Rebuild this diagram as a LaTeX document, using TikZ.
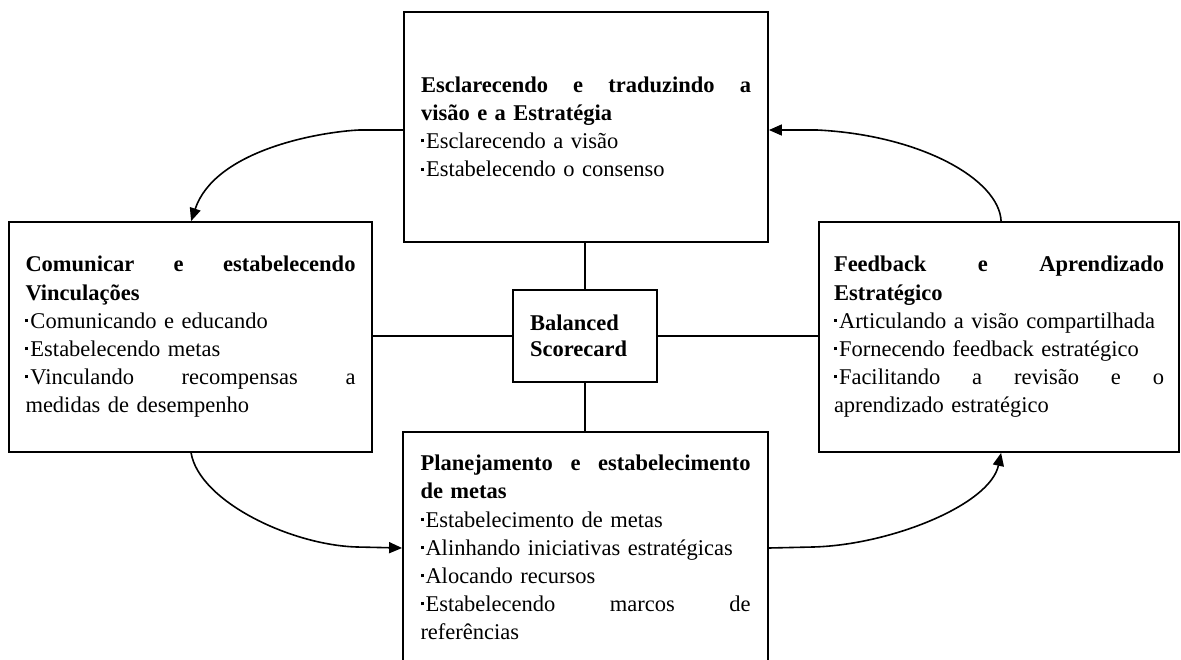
\documentclass[tikz,border=0pt]{standalone}
\usepackage{fontspec}
\setmainfont{Liberation Serif}
\usetikzlibrary{arrows.meta}

% full-width line with its gaps spread out, and the bullet marker
\newcommand\jl[1]{\leavevmode\makebox[330pt][l]{#1}}
\newcommand\bt{\rule[0.28em]{3pt}{3pt}\hspace{2pt}}

\begin{document}
\begin{tikzpicture}[x=1pt,y=-1pt,
  box/.style={draw,line width=1.8pt,rectangle,inner sep=0pt,
    text width=330pt,align=left,
    font=\fontsize{22.5pt}{28.2pt}\selectfont},
  link/.style={line width=1.6pt},
  flow/.style={line width=1.6pt,-{Triangle[length=13pt,width=11pt]}}]

\clip (0,0) rectangle (1181,659);
\fill[white] (0,0) rectangle (1181,659);

% four perspective boxes
\node[box,minimum width=364pt,minimum height=230pt] (vision) at (586,127)
  {\bfseries\jl{Esclarecendo\hfill e\hfill traduzindo\hfill a}\\
   visão e a Estratégia\\
   \mdseries\bt Esclarecendo a visão\\
   \bt Estabelecendo o consenso};

\node[box,minimum width=363pt,minimum height=230pt] (comm) at (190.5,337)
  {\bfseries\jl{Comunicar\hfill e\hfill estabelecendo}\\
   Vinculações\\
   \mdseries\bt Comunicando e educando\\
   \bt Estabelecendo metas\\
   \jl{\bt Vinculando\hfill recompensas\hfill a}\\
   medidas de desempenho};

\node[box,minimum width=360pt,minimum height=230pt] (feed) at (999,337)
  {\bfseries\jl{Feedback\hfill e\hfill Aprendizado}\\
   Estratégico\\
   \mdseries\bt Articulando a visão compartilhada\\
   \bt Fornecendo feedback estratégico\\
   \jl{\bt Facilitando\hfill a\hfill revisão\hfill e\hfill o}\\
   aprendizado estratégico};

\node[box,minimum width=365pt,minimum height=231pt] (plan) at (585.5,547.5)
  {\bfseries\jl{Planejamento\hfill e\hfill estabelecimento}\\
   de metas\\
   \mdseries\bt Estabelecimento de metas\\
   \bt Alinhando iniciativas estratégicas\\
   \bt Alocando recursos\\
   \jl{\bt Estabelecendo\hfill marcos\hfill de}\\
   referências};

% central box
\node[draw,line width=1.8pt,inner sep=0pt,minimum width=144pt,minimum height=92pt,
  text width=110pt,align=left,font=\fontsize{22.5pt}{26pt}\selectfont\bfseries]
  (bsc) at (585,336) {Balanced\\Scorecard};

% spokes from the centre
\draw[link] (bsc.north) -- (bsc.north |- vision.south);
\draw[link] (bsc.south) -- (bsc.south |- plan.north);
\draw[link] (bsc.west) -- (bsc.west -| comm.east);
\draw[link] (bsc.east) -- (bsc.east -| feed.west);

% clockwise cycle
\draw[flow] ([yshift=-3pt]vision.west) -- ++(-44,0)
  .. controls +(-40,2) and (215,150) .. ([xshift=183pt]comm.north west);
\draw[flow] ([xshift=183pt]comm.south west)
  .. controls +(8,48) and (290,545) .. (357,547) -- ([yshift=-0.5pt]plan.west);
\draw[flow] ([yshift=-0.5pt]plan.east) -- (813,547)
  .. controls (890,545) and (990,505) .. ([xshift=183pt]feed.south west);
\draw[flow] ([xshift=183pt]feed.north west)
  .. controls +(-2,-42) and (920,135) .. (817,130) -- ([yshift=-3pt]vision.east);
\end{tikzpicture}
\end{document}
